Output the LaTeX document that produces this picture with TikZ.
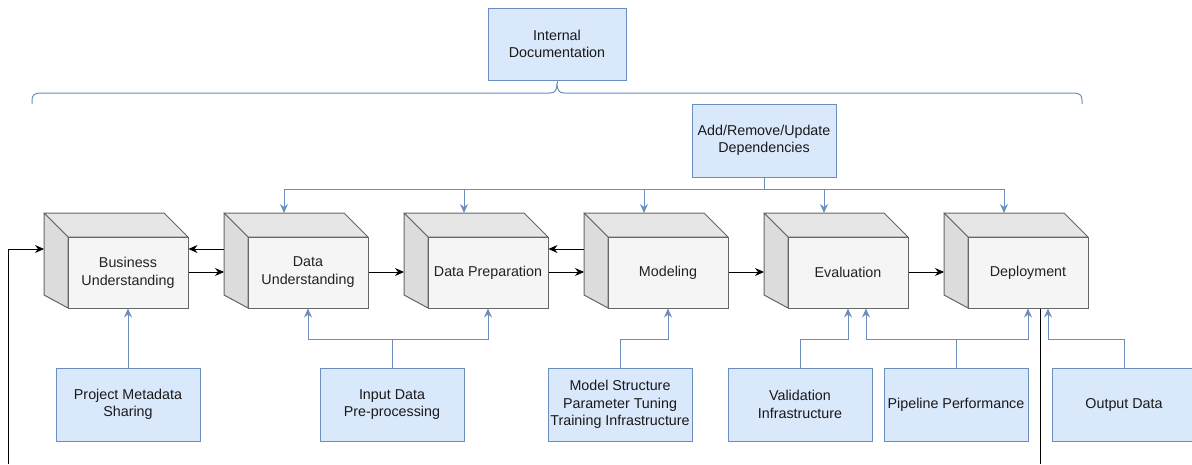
\documentclass[tikz,border=0pt]{standalone}
\usepackage{fontspec}
\setmainfont{Liberation Sans}
\usetikzlibrary{arrows.meta,calc}
\definecolor{bfill}{HTML}{DAE8FC}
\definecolor{bline}{HTML}{6C8EBF}
\definecolor{cfront}{HTML}{F5F5F5}
\definecolor{ctop}{HTML}{E6E6E6}
\definecolor{cleft}{HTML}{DCDCDC}
\definecolor{cline}{HTML}{666666}
\definecolor{ctext}{HTML}{222222}
\tikzset{
  cubeside/.style={draw=cline, line width=1pt, line join=round},
  cubefront/.style={draw=cline, fill=cfront, line width=1pt, minimum width=120pt, minimum height=71pt, inner sep=0pt, text=ctext, align=center, font=\fontsize{14.3}{18}\selectfont},
  bbox/.style={draw=bline, fill=bfill, line width=1pt, minimum width=144pt, minimum height=73pt, inner sep=0pt, align=center, text=black!90, font=\fontsize{14.3}{17.5}\selectfont},
  ba/.style={draw=bline, line width=1pt, -{Stealth[length=9pt,width=8pt,inset=3pt]}},
  blk/.style={draw=black, line width=1pt, -{Stealth[length=9pt,width=8pt,inset=3pt]}},
  bln/.style={draw=black, line width=1pt},
  brace/.style={draw=bline, line width=1pt}
}
\newcommand{\mycube}[3]{%
  \filldraw[cubeside,fill=ctop] (#2,213) -- (#2+120,213) -- (#2+144,237) -- (#2+24,237) -- cycle;
  \filldraw[cubeside,fill=cleft] (#2,213) -- (#2+24,237) -- (#2+24,308) -- (#2,295) -- cycle;
  \node[cubefront] (#1) at (#2+84,272.5) {#3};
  \coordinate (#1-l) at (#2,272);
  \coordinate (#1-t) at (#2+60,213);
}
\begin{document}
\begin{tikzpicture}[x=1pt,y=-1pt]
\useasboundingbox (0,0) rectangle (1192,464);
% cubes
\mycube{bu}{44}{Business\\Understanding}
\mycube{du}{224}{Data\\Understanding}
\mycube{dp}{404}{Data Preparation}
\mycube{mo}{584}{Modeling}
\mycube{ev}{764}{Evaluation}
\mycube{de}{944}{Deployment}
% blue boxes
\node[bbox, minimum width=138pt, minimum height=72pt] (doc) at (557,44) {Internal\\Documentation};
\node[bbox] (add) at (764,140.5) {Add/Remove/Update\\Dependencies};
\node[bbox] (pms) at (128,404.5) {Project Metadata\\Sharing};
\node[bbox] (idp) at (392,404.5) {Input Data\\Pre-processing};
\node[bbox] (ms) at (620,404.5) {Model Structure\\Parameter Tuning\\Training Infrastructure};
\node[bbox] (val) at (800,404.5) {Validation\\Infrastructure};
\node[bbox] (pp) at (956,404.5) {Pipeline Performance};
\node[bbox] (out) at (1124,404.5) {Output Data};
% brace under documentation
\coordinate (tip) at (557,83);
\draw[brace] (32,104) -- (32,100) .. controls (32,95) and (35,93) .. (40,93) -- (550,93)
  .. controls (555,93) and (557,90) .. (tip) .. controls (557,90) and (559,93) .. (564,93)
  -- (1074,93) .. controls (1079,93) and (1082,95) .. (1082,100) -- (1082,104);
\draw[brace] (doc.south) -- (tip);
% dependencies bus
\coordinate (bus) at (764,189);
\draw[ba] (add.south) -- (bus) -| (du-t);
\draw[ba] (bus) -| (dp-t);
\draw[ba] (bus) -| (mo-t);
\draw[ba] (bus) -| (ev-t);
\draw[ba] (bus) -| (de-t);
% black flow arrows
\draw[blk] (bu.east |- 0,272) -- (du-l |- 0,272);
\draw[blk] (du-l |- 0,249) -- (bu.east |- 0,249);
\draw[blk] (du.east |- 0,272) -- (dp-l |- 0,272);
\draw[blk] (dp.east |- 0,272) -- (mo-l |- 0,272);
\draw[blk] (mo-l |- 0,249) -- (dp.east |- 0,249);
\draw[blk] (mo.east |- 0,272) -- (ev-l |- 0,272);
\draw[blk] (ev.east |- 0,272) -- (de-l |- 0,272);
% loop back (leaves the picture)
\coordinate (lb) at (8,464);
\coordinate (rb) at (1040,464);
\draw[blk] (lb) |- (bu-l |- 0,249);
\draw[bln] ([xshift=12pt]de.south) -- (rb);
% blue feeders
\draw[ba] (pms.north) -- (bu.south);
\draw[ba] (idp.north) -- (392,339) -| (du.south);
\draw[ba] (392,339) -| (dp.south);
\draw[ba] (ms.north) -- (620,339) -| (mo.south);
\draw[ba] (val.north) -- (800,339) -| (ev.south);
\draw[ba] (pp.north) -- (956,339) -| ([xshift=18pt]ev.south);
\draw[ba] (956,339) -| (de.south);
\draw[ba] (out.north) -- (1124,339) -| ([xshift=20pt]de.south);
\end{tikzpicture}
\end{document}
